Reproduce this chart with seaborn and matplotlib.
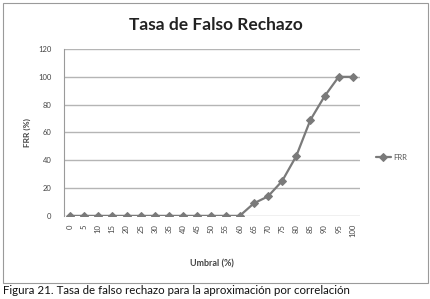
import numpy as np
import pandas as pd
import matplotlib
matplotlib.use('Agg')
import matplotlib.pyplot as plt
from matplotlib.patches import Rectangle
import seaborn as sns

umbral = ['0', '5', '10', '15', '20', '25', '30', '35', '40', '45', '50',
          '55', '60', '65', '70', '75', '80', '85', '90', '95', '100']
frr = [0, 0, 0, 0, 0, 0, 0, 0, 0, 0, 0, 0, 0, 9, 14, 25, 43, 69, 86, 100, 100]
y_ticks = [0, 20, 40, 60, 80, 100, 120]

sns.set_style('white')
plt.rcParams['font.family'] = ['Lato', 'DejaVu Sans']

df = pd.DataFrame({'pos': np.arange(len(umbral)), 'FRR': frr})

fig = plt.figure(figsize=(4.31, 2.99), dpi=100)
ax = fig.add_axes([0.1485, 0.278, 0.6865, 0.558])

sns.lineplot(data=df, x='pos', y='FRR', ax=ax, color='#7a7a7a', marker='D',
             markersize=4, markeredgecolor='#7a7a7a', linewidth=1.6, label='FRR')

ax.set_xlim(-0.42, 20.5)
ax.set_ylim(0, 120)
ax.set_yticks(y_ticks)
ax.set_yticklabels([str(v) for v in y_ticks], fontsize=5.5, color='#444444')
ax.set_xticks(df['pos'])
ax.set_xticklabels(umbral, rotation=90, fontsize=5.5, color='#444444')
ax.yaxis.grid(True, color='#b5b5b5', linewidth=1)
ax.set_axisbelow(True)
for s in ['top', 'right', 'bottom']:
    ax.spines[s].set_visible(False)
ax.spines['left'].set_color('#9a9a9a')
ax.tick_params(axis='y', length=3, color='#9a9a9a', pad=6)
ax.tick_params(axis='x', length=0, pad=6)

ax.set_xlabel('Umbral (%)', fontsize=6.5, fontweight='bold', color='#444444', labelpad=16)
ax.set_ylabel('FRR (%)', fontsize=6, fontweight='bold', color='#444444', labelpad=5)

leg = ax.legend(loc='center left', bbox_to_anchor=(1.03, 0.35), frameon=False,
                fontsize=5.5, handlelength=2, handletextpad=0.3)
for t in leg.get_texts():
    t.set_color('#555555')

fig.text(0.5, 0.915, 'Tasa de Falso Rechazo', ha='center', va='center',
         fontsize=12.5, fontweight='bold', color='#222222')

fig.patches.append(Rectangle((3 / 431, 1 - 283 / 299), 425 / 431, 280 / 299,
                             transform=fig.transFigure, fill=False,
                             edgecolor='#9a9a9a', linewidth=0.8))

fig.text(3 / 431, 1 - 291 / 299, 'Figura 21. Tasa de falso rechazo para la aproximación por correlación',
         ha='left', va='center', fontsize=8.3, color='#111111')

fig.savefig('out.png', dpi=100)
